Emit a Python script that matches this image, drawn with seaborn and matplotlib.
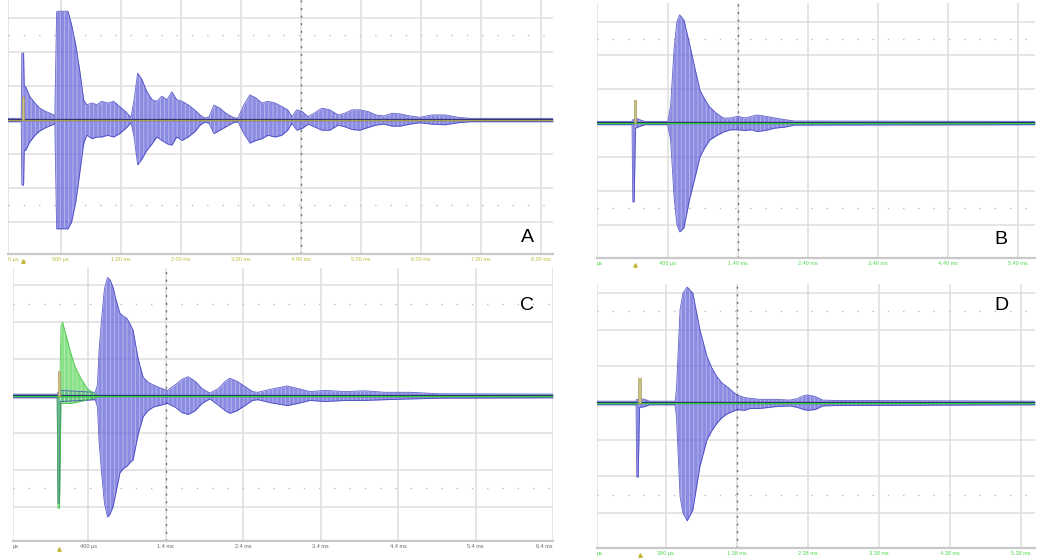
import matplotlib
matplotlib.use("Agg")
import matplotlib.pyplot as plt
import matplotlib.transforms as mtransforms
import pandas as pd
import seaborn as sns

sns.set_theme(style="white")
plt.rcParams["font.family"] = ["Liberation Sans", "DejaVu Sans"]
plt.rcParams["hatch.linewidth"] = 0.7

# ---------------------------------------------------------------
# Envelopes of the received bursts, in screen divisions
# (time axis: divisions, amplitude: divisions, 1 ms/div)
# ---------------------------------------------------------------

# Panel A - channel A (blue)
a_t = [0.12, 0.33, 0.34, 0.35, 0.38, 0.39, 0.42, 0.48, 0.57, 0.65, 0.75, 0.85,
       0.90, 0.93, 0.95, 1.12, 1.18, 1.25, 1.32, 1.38, 1.43, 1.52, 1.60, 1.68,
       1.78, 1.88, 1.98, 2.08, 2.17, 2.22, 2.28, 2.35, 2.43, 2.52, 2.60, 2.68,
       2.77, 2.85, 2.93, 3.02, 3.12, 3.23, 3.32, 3.40, 3.47, 3.55, 3.65, 3.75,
       3.87, 3.95, 4.05, 4.15, 4.25, 4.35, 4.45, 4.57, 4.68, 4.78, 4.85, 4.93,
       5.02, 5.12, 5.22, 5.35, 5.48, 5.62, 5.73, 5.85, 5.98, 6.12, 6.25, 6.38,
       6.52, 6.65, 6.82, 6.98, 7.18, 7.40, 7.62, 7.82, 9.20]
a_hi = [0.05, 0.05, 0.05, 1.97, 1.97, 1.00, 0.97, 0.70, 0.50, 0.35, 0.25, 0.18,
        0.12, 3.18, 3.20, 3.20, 2.80, 2.20, 1.40, 0.60, 0.45, 0.50, 0.45, 0.55,
        0.50, 0.55, 0.40, 0.25, 0.08, 0.60, 1.38, 1.20, 0.85, 0.60, 0.55, 0.70,
        0.60, 0.83, 0.60, 0.55, 0.45, 0.30, 0.15, 0.06, 0.10, 0.44, 0.35, 0.20,
        0.08, 0.05, 0.45, 0.74, 0.65, 0.50, 0.55, 0.50, 0.40, 0.30, 0.10, 0.30,
        0.25, 0.10, 0.20, 0.35, 0.30, 0.15, 0.20, 0.30, 0.30, 0.25, 0.15, 0.12,
        0.20, 0.18, 0.12, 0.08, 0.15, 0.15, 0.08, 0.05, 0.05]
a_lo = [-0.05, -0.05, -0.05, -1.91, -1.91, -0.90, -0.88, -0.65, -0.45, -0.32, -0.22, -0.15,
        -0.10, -3.20, -3.20, -3.20, -3.00, -2.40, -1.50, -0.70, -0.45, -0.55, -0.50, -0.50,
        -0.45, -0.50, -0.40, -0.25, -0.08, -0.50, -1.32, -1.15, -0.90, -0.70, -0.50, -0.60,
        -0.70, -0.74, -0.50, -0.60, -0.50, -0.35, -0.15, -0.06, -0.10, -0.40, -0.30, -0.20,
        -0.08, -0.05, -0.40, -0.68, -0.60, -0.55, -0.45, -0.50, -0.45, -0.30, -0.10, -0.30,
        -0.25, -0.12, -0.20, -0.30, -0.30, -0.15, -0.20, -0.28, -0.30, -0.22, -0.15, -0.12,
        -0.18, -0.18, -0.12, -0.08, -0.12, -0.14, -0.08, -0.05, -0.05]

# Panel B - channel A (blue)
b_t = [-0.01, 0.49, 0.50, 0.52, 0.54, 0.60, 0.67, 1.00, 1.04, 1.09, 1.13, 1.17,
       1.23, 1.31, 1.39, 1.46, 1.53, 1.60, 1.69, 1.79, 1.89, 2.00, 2.10, 2.20,
       2.27, 2.39, 2.53, 2.67, 2.81, 6.24]
b_hi = [0.05, 0.05, 0.10, 0.10, 0.15, 0.10, 0.05, 0.05, 0.50, 2.20, 3.00, 3.20,
        3.05, 2.35, 1.60, 0.97, 0.70, 0.47, 0.30, 0.15, 0.15, 0.20, 0.15, 0.20,
        0.24, 0.20, 0.15, 0.10, 0.06, 0.05]
b_lo = [-0.05, -0.05, -2.33, -2.33, -0.15, -0.10, -0.05, -0.05, -0.50, -2.20, -3.00, -3.22,
        -3.10, -2.27, -1.60, -1.00, -0.72, -0.50, -0.38, -0.27, -0.20, -0.20, -0.22, -0.20,
        -0.25, -0.22, -0.15, -0.12, -0.06, -0.05]

# Panel C - channel A (blue)
c_t = [0.03, 0.60, 0.61, 0.63, 0.64, 1.09, 1.12, 1.14, 1.17, 1.21, 1.25, 1.28,
       1.32, 1.36, 1.41, 1.46, 1.50, 1.54, 1.58, 1.62, 1.65, 1.71, 1.77, 1.84,
       1.93, 2.02, 2.12, 2.21, 2.29, 2.38, 2.47, 2.57, 2.68, 2.77, 2.83, 2.92,
       3.03, 3.12, 3.19, 3.35, 3.57, 3.71, 3.86, 4.06, 4.32, 4.57, 4.83, 5.15,
       5.54, 7.00]
c_hi = [0.05, 0.05, 0.10, 0.10, 0.15, 0.10, 0.30, 1.20, 2.00, 2.90, 3.20, 3.15,
        2.95, 2.60, 2.24, 2.15, 2.10, 1.95, 1.78, 1.30, 0.97, 0.51, 0.38, 0.30,
        0.22, 0.15, 0.30, 0.45, 0.52, 0.40, 0.20, 0.08, 0.20, 0.40, 0.48, 0.40,
        0.25, 0.12, 0.10, 0.18, 0.27, 0.20, 0.12, 0.15, 0.12, 0.14, 0.10, 0.10,
        0.06, 0.05]
c_lo = [-0.05, -0.05, -2.90, -2.90, -0.15, -0.10, -0.30, -1.20, -2.00, -2.90, -3.27, -3.20,
        -3.00, -2.60, -2.08, -1.95, -1.90, -1.80, -1.73, -1.30, -1.00, -0.56, -0.40, -0.30,
        -0.25, -0.20, -0.30, -0.45, -0.50, -0.40, -0.20, -0.08, -0.25, -0.40, -0.47, -0.40,
        -0.25, -0.12, -0.10, -0.18, -0.26, -0.20, -0.12, -0.15, -0.12, -0.12, -0.10, -0.08,
        -0.06, -0.05]

# Panel C - channel B (green, transmit pulse)
cg_t = [0.03, 0.60, 0.61, 0.63, 0.65, 0.67, 0.72, 0.77, 0.83, 0.90, 0.99, 1.09, 1.15, 7.00]
cg_hi = [0.0, 0.0, 0.0, 0.0, 1.90, 2.00, 1.60, 1.20, 0.80, 0.50, 0.20, 0.05, 0.0, 0.0]
cg_lo = [0.0, 0.0, -3.03, -3.03, -0.20, -0.20, -0.20, -0.20, -0.18, -0.15, -0.10, -0.05, 0.0, 0.0]

# Panel D - channel A (blue)
d_t = [0.03, 0.58, 0.59, 0.61, 0.63, 0.70, 0.77, 1.13, 1.15, 1.20, 1.24, 1.30,
       1.38, 1.48, 1.58, 1.65, 1.72, 1.79, 1.86, 2.00, 2.11, 2.18, 2.32, 2.54,
       2.75, 2.85, 2.94, 3.00, 3.10, 3.21, 3.38, 6.20]
d_hi = [0.05, 0.05, 0.10, 0.10, 0.12, 0.10, 0.05, 0.05, 0.40, 2.55, 3.00, 3.17,
        3.00, 2.00, 1.27, 0.95, 0.72, 0.55, 0.45, 0.22, 0.15, 0.13, 0.10, 0.10,
        0.08, 0.12, 0.20, 0.22, 0.18, 0.08, 0.07, 0.05]
d_lo = [-0.05, -0.05, -2.02, -2.02, -0.12, -0.10, -0.05, -0.05, -0.40, -2.56, -3.00, -3.22,
        -2.92, -1.73, -1.00, -0.75, -0.55, -0.40, -0.30, -0.18, -0.20, -0.15, -0.15, -0.10,
        -0.08, -0.12, -0.18, -0.20, -0.18, -0.08, -0.07, -0.05]

# Trigger markers (position in divisions, level in divisions)
trig_pos = {"A": 0.365, "B": 0.535, "C": 0.625, "D": 0.63}
trig_level = {"A": 0.68, "B": 0.68, "C": 0.68, "D": 0.68}

# Time-axis labels
a_ticks = [0.12, 1, 2, 3, 4, 5, 6, 7, 8, 9]
a_labels = ["0 µs", "500 µs", "1.00 ms", "2.00 ms", "3.00 ms", "4.00 ms",
            "5.00 ms", "6.00 ms", "7.00 ms", "8.00 ms"]
b_ticks = [-0.01, 1, 2, 3, 4, 5, 6]
b_labels = ["µs", "400 µs", "1.40 ms", "2.40 ms", "3.40 ms", "4.40 ms", "5.40 ms"]
c_ticks = [0.03, 1, 2, 3, 4, 5, 6, 7]
c_labels = ["µs", "400 µs", "1.4 ms", "2.4 ms", "3.4 ms", "4.4 ms", "5.4 ms", "6.4 ms"]
d_ticks = [0.03, 1, 2, 3, 4, 5, 6]
d_labels = ["µs", "380 µs", "1.38 ms", "2.38 ms", "3.38 ms", "4.38 ms", "5.38 ms"]

# ---------------------------------------------------------------
W, H = 1039, 558
fig = plt.figure(figsize=(W / 100, H / 100), dpi=100)
fig.patch.set_facecolor("white")

BLUE = "#5e5ed8"
BLUE_EDGE = "#3a3abf"
NAVY = "#1c1c7a"
GREEN = "#35cc35"


def px_axes(left, top, right, bottom):
    return fig.add_axes([left / W, 1 - bottom / H, (right - left) / W, (bottom - top) / H])


def draw_envelope(ax, t, hi, lo, face, edge, alpha):
    ax.fill_between(t, lo, hi, color=face, alpha=alpha, linewidth=0, zorder=3)
    ax.fill_between(t, lo, hi, facecolor="none", edgecolor=(1, 1, 1, 0.35),
                    hatch="||||", linewidth=0, zorder=3.5)
    df = pd.DataFrame({"t": list(t) * 2, "v": list(hi) + list(lo),
                       "side": ["hi"] * len(t) + ["lo"] * len(t)})
    sns.lineplot(data=df, x="t", y="v", units="side", estimator=None, sort=False,
                 color=edge, lw=0.6, alpha=0.8, ax=ax, zorder=4)
    ax.set_xlabel("")
    ax.set_ylabel("")


def panel(rect, xlim, ylim, ticks, labels, label_color, center_div, t, hi, lo,
          key, base_color, letter, letter_xy, green=None):
    ax = px_axes(*rect)
    ax.set_facecolor("white")
    ax.set_xlim(*xlim)
    ax.set_ylim(*ylim)
    ax.set_yticks([-3, -2, -1, 0, 1, 2, 3])
    ax.set_yticklabels([])
    ax.set_xticks(ticks)
    ax.set_xticklabels(labels)
    ax.grid(True, color="#dedede", lw=1.1, zorder=0)
    ax.tick_params(axis="x", length=0, pad=2.5, labelsize=4, labelcolor=label_color)
    ax.tick_params(axis="y", length=0)
    tl = ax.get_xticklabels()
    tl[0].set_ha("left")
    if ticks[-1] >= xlim[1] - 0.05:
        tl[-1].set_ha("right")
    for s in ("top", "left", "right"):
        ax.spines[s].set_visible(False)
    ax.spines["bottom"].set_color("#c8c8c8")
    ax.spines["bottom"].set_linewidth(1.6)

    # minor dotted rows and the centre (dashed) time line
    for yv in (2.5, -2.5):
        ax.axhline(yv, color="#bdbdbd", lw=1.0, ls=(0, (1, 10)), zorder=1)
    ax.axvline(center_div, color="#707070", lw=1.0, ls=(0, (1.5, 4)), zorder=2)

    draw_envelope(ax, t, hi, lo, BLUE, BLUE_EDGE, 0.72)
    ax.axhline(0, color=NAVY, lw=1.6, zorder=5)
    if green is not None:
        draw_envelope(ax, green[0], green[1], green[2], "#62d862", "#2fbf2f", 0.75)
    ax.axhline(0, color=base_color, lw=1.0, zorder=6)

    # trigger marker
    ax.bar([trig_pos[key]], [trig_level[key]], width=0.035, color="#c9c08a",
           edgecolor="#a89f5a", linewidth=0.5, zorder=7)
    trans = mtransforms.blended_transform_factory(ax.transData, ax.transAxes)
    ax.plot([trig_pos[key]], [-0.028], marker="^", ms=2.5, color="#c2b93a",
            transform=trans, clip_on=False, zorder=8)

    fig.text(letter_xy[0] / W, 1 - letter_xy[1] / H, letter, fontsize=14,
             color="black", ha="center", va="center")
    return ax


panel((8, 0, 553, 254), (0.12, 9.2), (-3.94, 3.53), a_ticks, a_labels, "#bcbc3c",
      5, a_t, a_hi, a_lo, "A", "#a9a24a", "A", (527, 237))
panel((597, 3, 1035, 258), (-0.01, 6.24), (-3.99, 3.55), b_ticks, b_labels, "#4fd84f",
      2, b_t, b_hi, b_lo, "B", GREEN, "B", (1001, 239))
panel((13, 268, 553, 541), (0.03, 7.0), (-3.92, 3.46), c_ticks, c_labels, "#6a6a6a",
      2, c_t, c_hi, c_lo, "C", GREEN, "C", (527, 306), green=(cg_t, cg_hi, cg_lo))
panel((597, 284, 1035, 548), (0.03, 6.2), (-3.96, 3.25), d_ticks, d_labels, "#4fd84f",
      2, d_t, d_hi, d_lo, "D", GREEN, "D", (1001, 306))

fig.savefig("out.png", dpi=100, facecolor="white")
